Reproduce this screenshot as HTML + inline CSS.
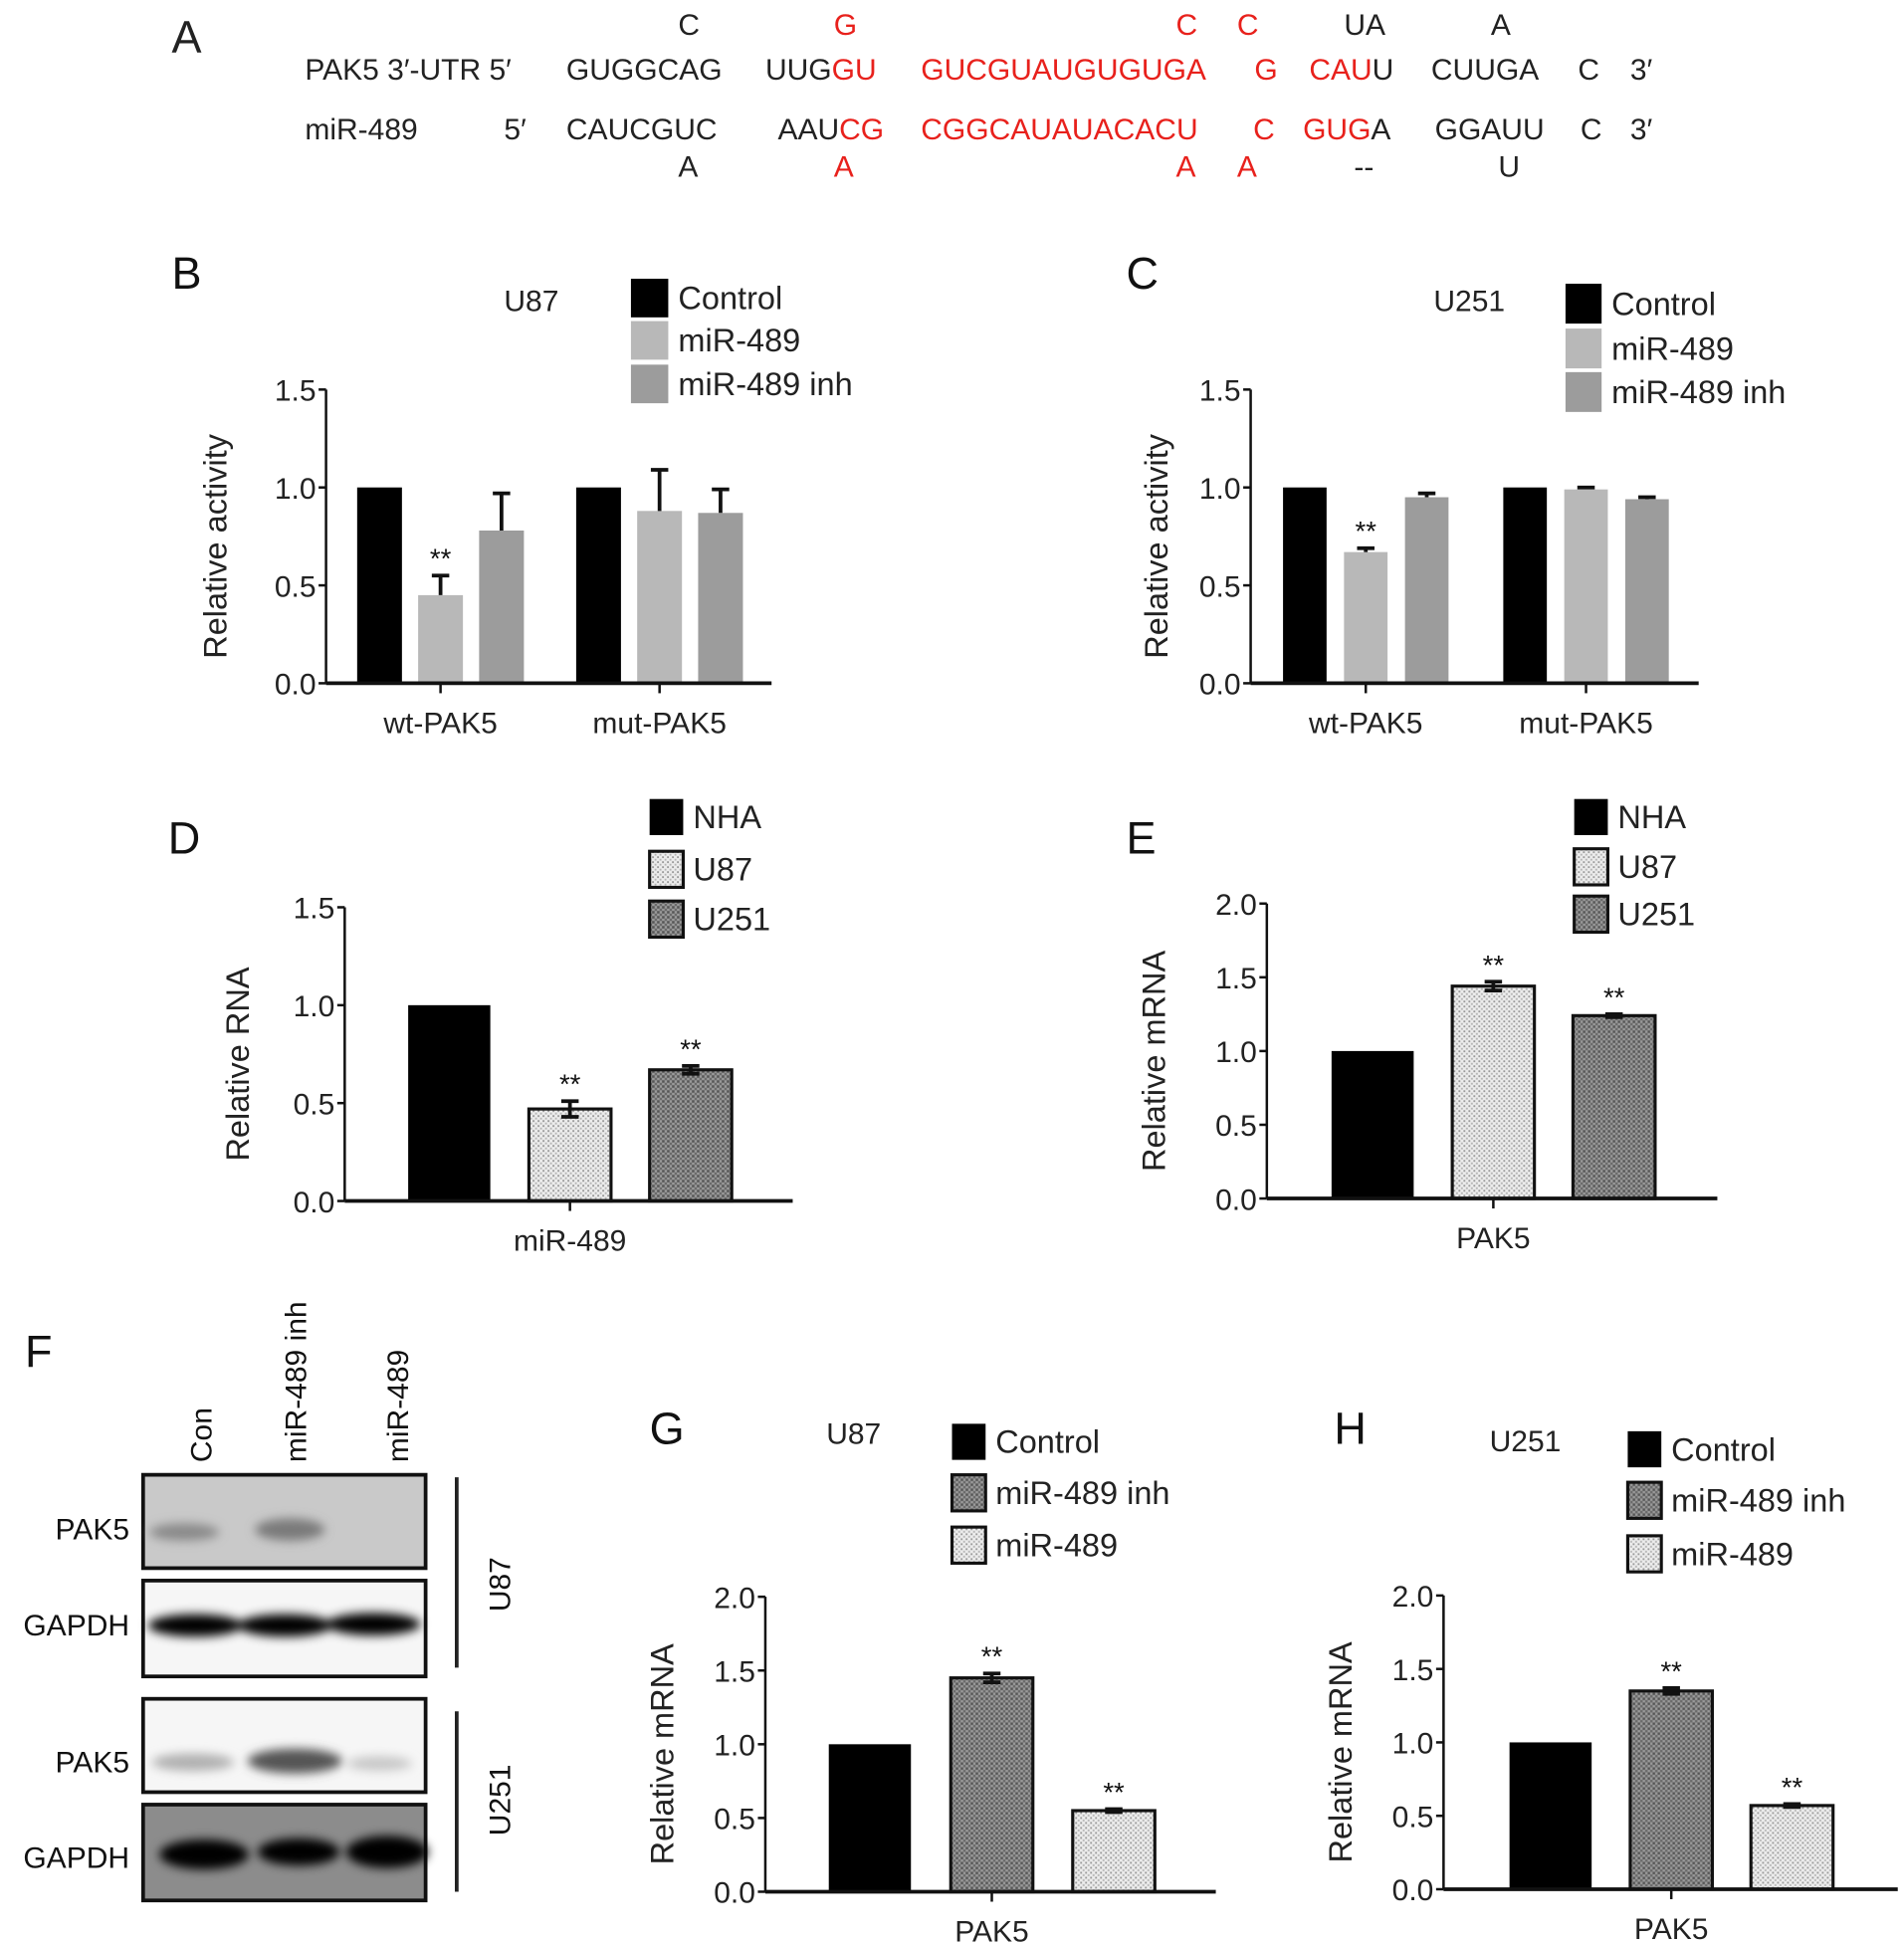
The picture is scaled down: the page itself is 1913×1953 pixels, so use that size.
<!DOCTYPE html>
<html><head><meta charset="utf-8">
<style>
html,body{margin:0;padding:0;background:#fff;}
svg{display:block;font-family:"Liberation Sans",Arial,sans-serif;}
</style></head>
<body>
<svg id="fig" width="1913" height="1953" viewBox="0 0 1530 1562" xmlns="http://www.w3.org/2000/svg">
<defs>
<pattern id="dots" width="4" height="4" patternUnits="userSpaceOnUse"><rect width="4" height="4" fill="#ececec"/><rect x="0" y="0" width="1.5" height="1.5" fill="#9a9a9a"/><rect x="2" y="2" width="1.5" height="1.5" fill="#b4b4b4"/></pattern>
<pattern id="hatch" width="4" height="4" patternUnits="userSpaceOnUse"><rect width="4" height="4" fill="#9a9a9a"/><rect x="0" y="0" width="2" height="2" fill="#555"/><rect x="2" y="2" width="2" height="2" fill="#6a6a6a"/></pattern>
<filter id="blur" x="-30%" y="-80%" width="160%" height="260%"><feGaussianBlur stdDeviation="4"/></filter>
</defs>

<!-- Panel A -->
<g font-size="24" fill="#222">
<text x="138" y="42" font-size="36">A</text>
<text y="28"><tspan x="545">C</tspan><tspan x="670" fill="#e8211c">G</tspan><tspan x="945" fill="#e8211c">C</tspan><tspan x="994" fill="#e8211c">C</tspan><tspan x="1080">UA</tspan><tspan x="1198">A</tspan></text>
<text y="64"><tspan x="245">PAK5 3′-UTR 5′</tspan><tspan x="455">GUGGCAG</tspan><tspan x="615">UUG</tspan><tspan fill="#e8211c">GU</tspan><tspan x="740" fill="#e8211c">GUCGUAUGUGUGA</tspan><tspan x="1008" fill="#e8211c">G</tspan><tspan x="1052" fill="#e8211c">CAU</tspan><tspan>U</tspan><tspan x="1150">CUUGA</tspan><tspan x="1268">C</tspan><tspan x="1310">3′</tspan></text>
<text y="112"><tspan x="245">miR-489</tspan><tspan x="405">5′</tspan><tspan x="455">CAUCGUC</tspan><tspan x="625">AAU</tspan><tspan fill="#e8211c">CG</tspan><tspan x="740" fill="#e8211c">CGGCAUAUACACU</tspan><tspan x="1007" fill="#e8211c">C</tspan><tspan x="1047" fill="#e8211c">GUG</tspan><tspan>A</tspan><tspan x="1153">GGAUU</tspan><tspan x="1270">C</tspan><tspan x="1310">3′</tspan></text>
<text y="142"><tspan x="545">A</tspan><tspan x="670" fill="#e8211c">A</tspan><tspan x="945" fill="#e8211c">A</tspan><tspan x="994" fill="#e8211c">A</tspan><tspan x="1088">--</tspan><tspan x="1204">U</tspan></text>
</g>

<!-- Panel F western blot -->
<g font-size="24" fill="#111">
<text x="20" y="1098" font-size="36">F</text>
<text transform="translate(170,1175) rotate(-90)">Con</text>
<text transform="translate(246,1175) rotate(-90)">miR-489 inh</text>
<text transform="translate(328,1175) rotate(-90)">miR-489</text>
<rect x="115" y="1185" width="227" height="75" fill="#c9c9c9" stroke="#111" stroke-width="3"/>
<rect x="115" y="1270" width="227" height="77" fill="#f6f6f6" stroke="#111" stroke-width="3"/>
<rect x="115" y="1365" width="227" height="75" fill="#f6f6f6" stroke="#111" stroke-width="3"/>
<rect x="115" y="1450" width="227" height="77" fill="#8c8c8c" stroke="#111" stroke-width="3"/>
<g filter="url(#blur)">
<ellipse cx="148" cy="1231" rx="28" ry="7" fill="#8a8a8a"/>
<ellipse cx="233" cy="1229" rx="28" ry="9" fill="#7a7a7a"/>
<ellipse cx="157" cy="1306" rx="38" ry="9" fill="#000"/>
<ellipse cx="229" cy="1306" rx="38" ry="9" fill="#000"/>
<ellipse cx="300" cy="1305" rx="38" ry="9" fill="#000"/>
<ellipse cx="155" cy="1416" rx="33" ry="7" fill="#b0b0b0"/>
<ellipse cx="237" cy="1415" rx="38" ry="10" fill="#555"/>
<ellipse cx="305" cy="1417" rx="26" ry="6" fill="#c8c8c8"/>
<ellipse cx="164" cy="1490" rx="36" ry="12" fill="#000"/>
<ellipse cx="240" cy="1488" rx="33" ry="11" fill="#000"/>
<ellipse cx="311" cy="1488" rx="33" ry="13" fill="#000"/>
</g>
<text x="104" y="1237" text-anchor="end">PAK5</text>
<text x="104" y="1314" text-anchor="end">GAPDH</text>
<text x="104" y="1424" text-anchor="end">PAK5</text>
<text x="104" y="1501" text-anchor="end">GAPDH</text>
<line x1="367" y1="1187" x2="367" y2="1340" stroke="#222" stroke-width="3"/>
<line x1="367" y1="1375" x2="367" y2="1520" stroke="#222" stroke-width="3"/>
<text transform="translate(410,1295) rotate(-90)">U87</text>
<text transform="translate(410,1475) rotate(-90)">U251</text>
</g>
</svg>
<script>
// ---- Data arrays ----
// Panel B (U87 luciferase)
const bCategories = ["wt-PAK5", "mut-PAK5"];
const bSeries = ["Control", "miR-489", "miR-489 inh"];
const bValues = [[1.0, 0.45, 0.78], [1.0, 0.88, 0.87]];
const bErrors = [[0, 0.10, 0.19], [0, 0.21, 0.12]];
const bStars = [["", "**", ""], ["", "", ""]];
const bTicks = [0, 0.5, 1.0, 1.5];
// Panel C (U251 luciferase)
const cCategories = ["wt-PAK5", "mut-PAK5"];
const cSeries = ["Control", "miR-489", "miR-489 inh"];
const cValues = [[1.0, 0.67, 0.95], [1.0, 0.99, 0.94]];
const cErrors = [[0, 0.02, 0.02], [0, 0.01, 0.01]];
const cStars = [["", "**", ""], ["", "", ""]];
const cTicks = [0, 0.5, 1.0, 1.5];
// Panel D
const dCategories = ["miR-489"];
const dSeries = ["NHA", "U87", "U251"];
const dValues = [[1.0, 0.47, 0.67]];
const dErrors = [[0, 0.04, 0.02]];
const dStars = [["", "**", "**"]];
const dTicks = [0, 0.5, 1.0, 1.5];
// Panel E
const eCategories = ["PAK5"];
const eSeries = ["NHA", "U87", "U251"];
const eValues = [[1.0, 1.44, 1.24]];
const eErrors = [[0, 0.03, 0.01]];
const eStars = [["", "**", "**"]];
const eTicks = [0, 0.5, 1.0, 1.5, 2.0];
// Panel G
const gCategories = ["PAK5"];
const gSeries = ["Control", "miR-489 inh", "miR-489"];
const gValues = [[1.0, 1.45, 0.55]];
const gErrors = [[0, 0.03, 0.01]];
const gStars = [["", "**", "**"]];
const gTicks = [0, 0.5, 1.0, 1.5, 2.0];
// Panel H
const hCategories = ["PAK5"];
const hSeries = ["Control", "miR-489 inh", "miR-489"];
const hValues = [[1.0, 1.35, 0.57]];
const hErrors = [[0, 0.02, 0.01]];
const hStars = [["", "**", "**"]];
const hTicks = [0, 0.5, 1.0, 1.5, 2.0];

const NS = "http://www.w3.org/2000/svg";
const svg = document.getElementById("fig");
function mk(tag, attrs, parent, text) {
  const e = document.createElementNS(NS, tag);
  for (const k in attrs) e.setAttribute(k, attrs[k]);
  if (text !== undefined) e.textContent = text;
  (parent || svg).appendChild(e);
  return e;
}
function fmt(v){ return v.toFixed(1); }

function chart(o, cats, series, vals, errs, stars, ticks) {
  const g = mk("g", {});
  
  
  const ymax = ticks[ticks.length - 1];
  const yS = v => o.y0 - (o.y0 - o.yTop) * v / ymax;
  const lbl = mk("text", {x: o.labelX, y: o.labelY, "font-size": 36, fill: "#111"}, g, o.letter);
  
  
  // bars
  cats.forEach((c, ci) => {
    series.forEach((s, si) => {
      const x = o.groupX[ci] + si * o.step;
      const v = vals[ci][si];
      const top = yS(v);
      const r = mk("rect", {x: x, y: top, width: o.barW, height: o.y0 - top, fill: o.fills[si], stroke: o.strokes[si], "stroke-width": o.strokes[si] === "none" ? 0 : 2.5}, g);
      
      
      const e = errs[ci][si];
      const cx = x + o.barW / 2;
      if (e > 0) {
        const eb = mk("path", {d: "M" + cx + " " + yS(v + e) + "V" + (o.twoSided ? yS(v - e) : top) + "M" + (cx - 7) + " " + yS(v + e) + "H" + (cx + 7) + (o.twoSided ? "M" + (cx - 7) + " " + yS(v - e) + "H" + (cx + 7) : ""), stroke: "#111", "stroke-width": 3, fill: "none"}, g);
        
        
      }
      if (stars[ci][si]) {
        const st = mk("text", {x: cx, y: yS(v + e) - 6, "text-anchor": "middle", "font-size": 22, fill: "#111"}, g, stars[ci][si]);
        
        
      }
    });
    const gc = o.groupX[ci] + ((series.length - 1) * o.step + o.barW) / 2;
    mk("line", {x1: gc, x2: gc, y1: o.y0, y2: o.y0 + 8, stroke: "#111", "stroke-width": 2}, g);
    const cl = mk("text", {x: gc, y: o.y0 + 40, "text-anchor": "middle", "font-size": 24, fill: "#222"}, g, c);
    
    
  });
  // axes
  const ya = mk("line", {x1: o.x0, x2: o.x0, y1: yS(ymax), y2: o.y0, stroke: "#111", "stroke-width": 2}, g);
  
  
  const xa = mk("line", {x1: o.x0, x2: o.xEnd, y1: o.y0, y2: o.y0, stroke: "#111", "stroke-width": 3}, g);
  
  
  ticks.forEach(t => {
    mk("line", {x1: o.x0 - 6, x2: o.x0, y1: yS(t), y2: yS(t), stroke: "#111", "stroke-width": 2}, g);
    const tl = mk("text", {x: o.x0 - 8, y: yS(t) + 9, "text-anchor": "end", "font-size": 24, fill: "#222"}, g, fmt(t));
    
    
  });
  const yt = mk("text", {transform: "translate(" + o.yTitleX + "," + ((yS(ymax) + o.y0) / 2 + 8) + ") rotate(-90)", "text-anchor": "middle", "font-size": 26, fill: "#222"}, g, o.yTitle);
  
  
  if (o.title) {
    const tt = mk("text", {x: o.titleX, y: o.titleY, "font-size": 24, fill: "#222"}, g, o.title);
    
    
  }
  // legend
  series.forEach((s, si) => {
    const ly = o.legY[si];
    const sw = mk("rect", {x: o.legX, y: ly, width: o.legW, height: o.legH, fill: o.fills[si], stroke: o.strokes[si], "stroke-width": o.strokes[si] === "none" ? 0 : 2.5}, g);
    
    
    const lt = mk("text", {x: o.legX + o.legW + 8, y: ly + o.legH / 2 + 9, "font-size": 26, fill: "#222"}, g, s);
    
    
  });
}

const lucFills = ["#000", "#b8b8b8", "#9c9c9c"];
const lucStrokes = ["none", "none", "none"];
chart({name: "panel-b-chart", letter: "B", labelX: 138, labelY: 232, x0: 262, xEnd: 620, y0: 549, yTop: 313, groupX: [287, 463], step: 49, barW: 36, fills: lucFills, strokes: lucStrokes, twoSided: false, yTitle: "Relative activity", yTitleX: 182, title: "U87", titleX: 405, titleY: 250, legX: 507, legY: [224, 258, 293], legW: 30, legH: 31},
  bCategories, bSeries, bValues, bErrors, bStars, bTicks);
chart({name: "panel-c-chart", letter: "C", labelX: 905, labelY: 232, x0: 1005, xEnd: 1365, y0: 549, yTop: 313, groupX: [1031, 1208], step: 49, barW: 35, fills: lucFills, strokes: lucStrokes, twoSided: false, yTitle: "Relative activity", yTitleX: 938, title: "U251", titleX: 1152, titleY: 250, legX: 1258, legY: [228, 264, 299], legW: 29, legH: 32},
  cCategories, cSeries, cValues, cErrors, cStars, cTicks);
chart({name: "panel-d-chart", letter: "D", labelX: 135, labelY: 686, x0: 277, xEnd: 637, y0: 965, yTop: 729, groupX: [328], step: 97, barW: 66, fills: ["#000", "url(#dots)", "url(#hatch)"], strokes: ["none", "#111", "#111"], twoSided: true, yTitle: "Relative RNA", yTitleX: 200, legX: 522, legY: [642, 684, 724], legW: 27, legH: 29},
  dCategories, dSeries, dValues, dErrors, dStars, dTicks);
chart({name: "panel-e-chart", letter: "E", labelX: 905, labelY: 686, x0: 1018, xEnd: 1380, y0: 963, yTop: 726, groupX: [1070], step: 97, barW: 66, fills: ["#000", "url(#dots)", "url(#hatch)"], strokes: ["none", "#111", "#111"], twoSided: true, yTitle: "Relative mRNA", yTitleX: 936, legX: 1265, legY: [642, 682, 720], legW: 27, legH: 29},
  eCategories, eSeries, eValues, eErrors, eStars, eTicks);
chart({name: "panel-g-chart", letter: "G", labelX: 522, labelY: 1160, x0: 615, xEnd: 977, y0: 1520, yTop: 1283, groupX: [666], step: 98, barW: 66, fills: ["#000", "url(#hatch)", "url(#dots)"], strokes: ["none", "#111", "#111"], twoSided: true, yTitle: "Relative mRNA", yTitleX: 541, title: "U87", titleX: 664, titleY: 1160, legX: 765, legY: [1144, 1185, 1227], legW: 27, legH: 29},
  gCategories, gSeries, gValues, gErrors, gStars, gTicks);
chart({name: "panel-h-chart", letter: "H", labelX: 1072, labelY: 1160, x0: 1160, xEnd: 1525, y0: 1518, yTop: 1282, groupX: [1213], step: 97, barW: 66, fills: ["#000", "url(#hatch)", "url(#dots)"], strokes: ["none", "#111", "#111"], twoSided: true, yTitle: "Relative mRNA", yTitleX: 1086, title: "U251", titleX: 1197, titleY: 1166, legX: 1308, legY: [1150, 1191, 1234], legW: 27, legH: 29},
  hCategories, hSeries, hValues, hErrors, hStars, hTicks);
</script>
</body></html>
